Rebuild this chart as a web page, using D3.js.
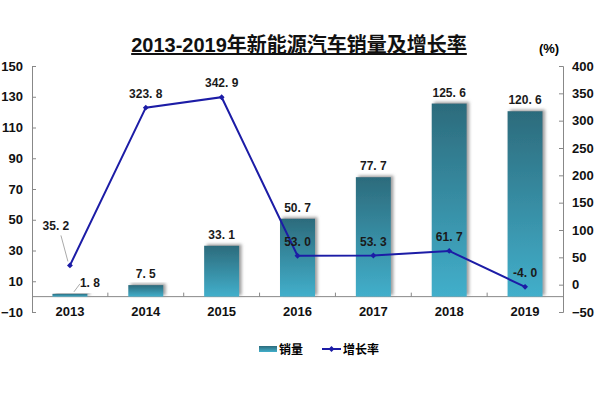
<!DOCTYPE html>
<html>
<head>
<meta charset="utf-8">
<script src="https://cdn.jsdelivr.net/npm/d3@7"></script>
<style>
  body { margin: 0; background: #fff; }
  text { font-family: "Liberation Sans", Arial, "Noto Sans CJK SC", sans-serif; }
</style>
</head>
<body>
<svg id="chart" width="600" height="400"></svg>
<script>
// chart data
const years = ['2013', '2014', '2015', '2016', '2017', '2018', '2019'];
const sales = [1.8, 7.5, 33.1, 50.7, 77.7, 125.6, 120.6];
const growth = [35.2, 323.8, 342.9, 53.0, 53.3, 61.7, -4.0];
const leftTicks = [-10, 10, 30, 50, 70, 90, 110, 130, 150];
const rightTicks = [-50, 0, 50, 100, 150, 200, 250, 300, 350, 400];

const svg = d3.select('#chart');
const plotLeft = 32, plotRight = 563, plotTop = 66, plotBottom = 312;

// scales
const x = d3.scaleBand().domain(years).range([plotLeft, plotRight]);
const yL = d3.scaleLinear().domain([-10, 150]).range([plotBottom, plotTop]);
const yR = d3.scaleLinear().domain([-50, 400]).range([plotBottom, plotTop]);

// label format like "35. 2"
const fmt = v => v.toFixed(1).replace('.', '. ');

const defs = svg.append('defs');
const grad = defs.append('linearGradient')
    .attr('id', 'bar-grad')
    .attr('x1', 0).attr('y1', 0).attr('x2', 0).attr('y2', 1);
grad.append('stop').attr('offset', '0%').attr('stop-color', '#2c6b7c');
grad.append('stop').attr('offset', '100%').attr('stop-color', '#42afcb');

const shadow = defs.append('filter').attr('id', 'shadow')
    .attr('x', '-20%').attr('y', '-20%').attr('width', '150%').attr('height', '140%');
shadow.append('feDropShadow')
    .attr('dx', 2.5).attr('dy', -1.5).attr('stdDeviation', 1.5)
    .attr('flood-color', '#888').attr('flood-opacity', 0.8);

// title
svg.append('text')
    .attr('x', 299).attr('y', 52)
    .attr('text-anchor', 'middle')
    .attr('font-size', 20).attr('font-weight', 'bold')
    .attr('fill', '#111')
    .attr('text-decoration', 'underline')
    .text('2013-2019年新能源汽车销量及增长率');

svg.append('text')
    .attr('x', 549).attr('y', 53)
    .attr('text-anchor', 'middle')
    .attr('font-size', 13).attr('font-weight', 'bold')
    .text('(%)');

// axes
const axisColor = '#888';
const gL = svg.append('g').attr('transform', `translate(${plotLeft},0)`)
    .call(d3.axisLeft(yL).tickValues(leftTicks).tickSizeInner(-4).tickSizeOuter(-4).tickPadding(9));
const gR = svg.append('g').attr('transform', `translate(${plotRight},0)`)
    .call(d3.axisRight(yR).tickValues(rightTicks).tickSizeInner(-4).tickSizeOuter(-4).tickPadding(9));
[gL, gR].forEach(g => {
    g.select('.domain').attr('stroke', axisColor);
    g.selectAll('.tick line').attr('stroke', axisColor);
    g.selectAll('.tick text')
        .attr('font-size', 13).attr('font-weight', 'bold')
        .attr('fill', '#111')
        .attr('font-family', '"Liberation Sans", Arial, sans-serif')
        .text(d => d < 0 ? '\u2212' + Math.abs(d) : d);
});

// category axis at zero
const gX = svg.append('g').attr('transform', `translate(0,${yL(0)})`);
gX.append('line').attr('x1', plotLeft).attr('x2', plotRight)
    .attr('stroke', axisColor);
gX.selectAll('.sep').data(years.slice(1)).join('line')
    .attr('class', 'sep')
    .attr('x1', d => x(d)).attr('x2', d => x(d))
    .attr('y1', -4).attr('y2', 0)
    .attr('stroke', axisColor);
svg.selectAll('.xlab').data(years).join('text')
    .attr('class', 'xlab')
    .attr('x', d => x(d) + x.bandwidth() / 2)
    .attr('y', 316)
    .attr('text-anchor', 'middle')
    .attr('font-size', 13).attr('font-weight', 'bold')
    .attr('fill', '#111')
    .text(d => d);

// bars
const barW = 35;
svg.append('g').selectAll('rect').data(years).join('rect')
    .attr('x', d => x(d) + x.bandwidth() / 2 - barW / 2)
    .attr('y', (d, i) => yL(sales[i]))
    .attr('width', barW)
    .attr('height', (d, i) => yL(0) - yL(sales[i]))
    .attr('fill', 'url(#bar-grad)')
    .attr('filter', 'url(#shadow)');

// bar labels
svg.append('g').selectAll('text').data(years).join('text')
    .attr('x', (d, i) => x(d) + x.bandwidth() / 2 + (i === 0 ? 20 : 0))
    .attr('y', (d, i) => yL(sales[i]) - 7)
    .attr('text-anchor', 'middle')
    .attr('font-size', 12).attr('font-weight', 'bold')
    .attr('fill', '#1a1a1a')
    .text((d, i) => fmt(sales[i]));
// leader line for the small 2013 bar
svg.append('path')
    .attr('d', `M${x(years[0]) + x.bandwidth() / 2 + 4},${yL(sales[0]) - 2} L${x(years[0]) + x.bandwidth() / 2 + 10},${yL(sales[0]) - 10}`)
    .attr('stroke', '#aaa').attr('fill', 'none');

// growth line
const line = d3.line()
    .x((d, i) => x(years[i]) + x.bandwidth() / 2)
    .y(d => yR(d));
svg.append('path')
    .datum(growth)
    .attr('d', line)
    .attr('fill', 'none')
    .attr('stroke', '#1c1ca6')
    .attr('stroke-width', 2);
svg.append('g').selectAll('path').data(growth).join('path')
    .attr('d', d3.symbol(d3.symbolDiamond2, 22))
    .attr('transform', (d, i) => `translate(${x(years[i]) + x.bandwidth() / 2},${yR(d)})`)
    .attr('fill', '#1c1ca6');

// growth labels
svg.append('g').selectAll('text').data(growth).join('text')
    .attr('x', (d, i) => x(years[i]) + x.bandwidth() / 2 + (i === 0 ? -14 : 0))
    .attr('y', (d, i) => yR(d) - (i === 0 ? 35 : 10))
    .attr('text-anchor', 'middle')
    .attr('font-size', 12).attr('font-weight', 'bold')
    .attr('fill', '#1a1a1a')
    .text(d => fmt(d));
// leader line for 2013 growth label
svg.append('path')
    .attr('d', `M${x(years[0]) + x.bandwidth() / 2 - 2},${yR(growth[0]) - 4} L${x(years[0]) + x.bandwidth() / 2 - 9},${yR(growth[0]) - 30}`)
    .attr('stroke', '#aaa').attr('fill', 'none');

// legend
const lg = svg.append('g');
lg.append('rect').attr('x', 259).attr('y', 346).attr('width', 18).attr('height', 6)
    .attr('fill', 'url(#bar-grad)');
lg.append('text').attr('x', 279).attr('y', 354)
    .attr('font-size', 12).attr('font-weight', 'bold')
    .attr('font-family', '"Noto Sans CJK SC", sans-serif')
    .text('销量');
lg.append('line').attr('x1', 322).attr('x2', 341).attr('y1', 349).attr('y2', 349)
    .attr('stroke', '#1c1ca6').attr('stroke-width', 2);
lg.append('path').attr('d', d3.symbol(d3.symbolDiamond2, 22))
    .attr('transform', 'translate(331.5,349)').attr('fill', '#1c1ca6');
lg.append('text').attr('x', 343).attr('y', 354)
    .attr('font-size', 12).attr('font-weight', 'bold')
    .attr('font-family', '"Noto Sans CJK SC", sans-serif')
    .text('增长率');
</script>
</body>
</html>
